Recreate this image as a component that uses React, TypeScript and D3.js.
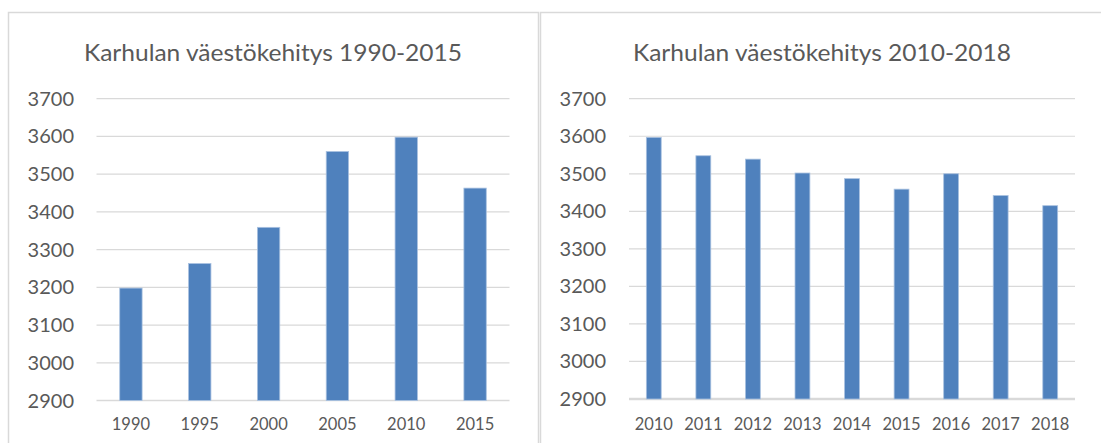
import React from "react";
import * as d3 from "d3";

const leftTitle = "Karhulan väestökehitys 1990-2015";
const leftYears = ["1990", "1995", "2000", "2005", "2010", "2015"];
const leftValues = [3198, 3263, 3359, 3560, 3598, 3463];

const rightTitle = "Karhulan väestökehitys 2010-2018";
const rightYears = ["2010", "2011", "2012", "2013", "2014", "2015", "2016", "2017", "2018"];
const rightValues = [3597, 3548, 3539, 3502, 3487, 3459, 3500, 3442, 3415];

const yTicks = [2900, 3000, 3100, 3200, 3300, 3400, 3500, 3600, 3700];

const FONT = "Lato, 'Open Sans', sans-serif";
const TEXT = "#595959";
const GRID = "#d9d9d9";
const BAR = "#4f81bd";

type PanelProps = {
  title: string;
  cats: string[];
  values: number[];
  box: [number, number, number, number];
  plot: { x0: number; x1: number; y0: number; y1: number };
  titleX: number;
  labelRight: number;
  barFrac: number;
  axisWidth: number;
};

function Panel({ title, cats, values, box, plot, titleX, labelRight, barFrac, axisWidth }: PanelProps) {
  const x = d3.scaleBand<string>().domain(cats).range([plot.x0, plot.x1]).paddingInner(0).paddingOuter(0);
  const y = d3.scaleLinear().domain([2900, 3700]).range([plot.y1, plot.y0]);
  const bw = x.step() * barFrac;
  return (
    <g>
      <rect x={box[0]} y={box[1]} width={box[2]} height={box[3]} fill="#fff" stroke={GRID} strokeWidth={1.5} />
      <text
        x={titleX}
        y={61}
        textAnchor="middle"
        fontFamily={FONT}
        fontSize={22.5}
        fontWeight={400}
        fill={TEXT}
        textLength={378}
        lengthAdjust="spacingAndGlyphs"
      >
        {title}
      </text>
      {yTicks.map((t) => (
        <g key={t}>
          <line
            x1={plot.x0}
            x2={plot.x1}
            y1={y(t)}
            y2={y(t)}
            stroke={GRID}
            strokeWidth={t === 2900 ? axisWidth : 1.2}
          />
          <text
            x={labelRight}
            y={y(t)}
            dy="0.35em"
            textAnchor="end"
            fontFamily={FONT}
            fontSize={20}
            fill={TEXT}
          >
            {t}
          </text>
        </g>
      ))}
      {cats.map((c, i) => {
        const cx = (x(c) as number) + x.step() / 2;
        return (
          <g key={c}>
            <rect
              x={cx - bw / 2}
              y={y(values[i])}
              width={bw}
              height={y(2900) - y(values[i])}
              fill={BAR}
              stroke="#a9c1e0"
              strokeWidth={0.8}
            />
            <text x={cx} y={430} textAnchor="middle" fontFamily={FONT} fontSize={16.5} fill={TEXT}>
              {c}
            </text>
          </g>
        );
      })}
    </g>
  );
}

export default function App() {
  return (
    <svg
      width={1101}
      height={443}
      style={{ position: "absolute", left: 0, top: 0, background: "#fff" }}
    >
      <rect x={0} y={0} width={1101} height={443} fill="#fff" />
      <Panel
        title={leftTitle}
        cats={leftYears}
        values={leftValues}
        box={[8.5, 12.5, 530, 440]}
        plot={{ x0: 96.5, x1: 509.5, y0: 98.7, y1: 400.5 }}
        titleX={273}
        labelRight={74}
        barFrac={0.325}
        axisWidth={1.5}
      />
      <Panel
        title={rightTitle}
        cats={rightYears}
        values={rightValues}
        box={[540.5, 12.5, 570, 440]}
        plot={{ x0: 629, x1: 1075, y0: 98.7, y1: 399 }}
        titleX={822}
        labelRight={606}
        barFrac={0.3}
        axisWidth={2.5}
      />
    </svg>
  );
}
